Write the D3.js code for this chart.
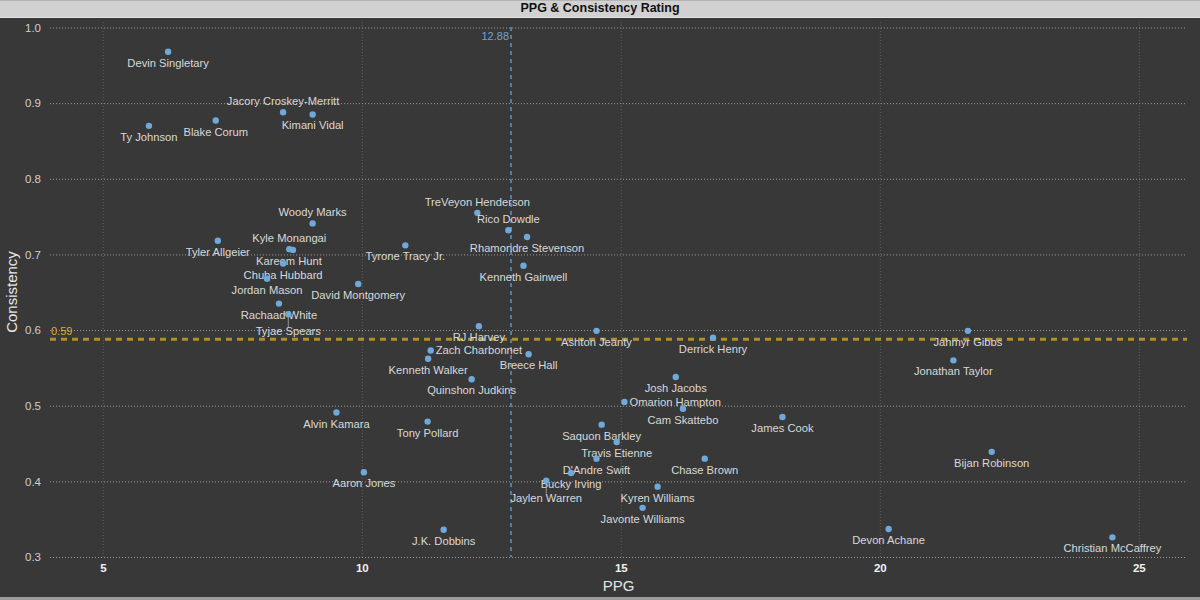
<!DOCTYPE html>
<html>
<head>
<meta charset="utf-8">
<script src="https://cdn.jsdelivr.net/npm/d3@7"></script>
<style>
  html, body { margin: 0; padding: 0; background: #383838; }
  svg { display: block; font-family: "Liberation Sans", Arial, sans-serif; }
</style>
</head>
<body>
<div id="chart"></div>
<script>
// PPG vs consistency scatter
const players = [
  "Devin Singletary", "Ty Johnson", "Blake Corum", "Jacory Croskey-Merritt", "Kimani Vidal",
  "Woody Marks", "Tyler Allgeier", "Kyle Monangai", "Kareem Hunt", "Chuba Hubbard",
  "Jordan Mason", "Rachaad White", "Tyjae Spears", "David Montgomery", "Tyrone Tracy Jr.",
  "TreVeyon Henderson", "Rico Dowdle", "Rhamondre Stevenson", "Kenneth Gainwell", "RJ Harvey",
  "Ashton Jeanty", "Zach Charbonnet", "Kenneth Walker", "Breece Hall", "Quinshon Judkins",
  "Alvin Kamara", "Tony Pollard", "Aaron Jones", "J.K. Dobbins", "Josh Jacobs",
  "Omarion Hampton", "Cam Skattebo", "Saquon Barkley", "Travis Etienne", "D'Andre Swift",
  "Chase Brown", "Bucky Irving", "Jaylen Warren", "Kyren Williams", "Javonte Williams",
  "Derrick Henry", "Jahmyr Gibbs", "Jonathan Taylor", "James Cook", "Bijan Robinson",
  "Devon Achane", "Christian McCaffrey"
];
const ppg = [
  6.26, 5.89, 7.18, 8.48, 9.05,
  9.05, 7.22, 8.60, 8.67, 8.48,
  8.17, 8.40, 8.58, 9.93, 10.84,
  12.23, 12.83, 13.19, 13.12, 12.26,
  14.53, 11.33, 11.28, 13.22, 12.12,
  9.51, 11.27, 10.04, 11.58, 16.06,
  15.07, 16.20, 14.63, 14.92, 14.53,
  16.62, 14.04, 13.56, 15.71, 15.42,
  16.78, 21.70, 21.42, 18.12, 22.16,
  20.17, 24.49
];
const consistency = [
  0.968, 0.870, 0.877, 0.888, 0.885,
  0.741, 0.718, 0.707, 0.706, 0.688,
  0.668, 0.635, 0.621, 0.661, 0.712,
  0.755, 0.732, 0.723, 0.685, 0.605,
  0.599, 0.573, 0.562, 0.568, 0.535,
  0.491, 0.479, 0.412, 0.336, 0.538,
  0.505, 0.496, 0.475, 0.452, 0.430,
  0.430, 0.411, 0.401, 0.393, 0.365,
  0.590, 0.599, 0.560, 0.485, 0.439,
  0.337, 0.326
];
const xTicks = [5, 10, 15, 20, 25];
const yTicks = [0.3, 0.4, 0.5, 0.6, 0.7, 0.8, 0.9, 1.0];
const meanPPG = 12.88;
const meanConsistency = 0.588;

// label placement (default: centred under the point)
const labelSide = {
  "Jacory Croskey-Merritt": "above",
  "Woody Marks": "above",
  "Kyle Monangai": "above",
  "TreVeyon Henderson": "above",
  "Rico Dowdle": "above",
  "Zach Charbonnet": "right",
  "Omarion Hampton": "right"
};
const labelNudge = {
  "Kareem Hunt": [-4, 0],
  "Tyjae Spears": [0, 6],
  "Jaylen Warren": [0, 6]
};

const W = 1200, H = 600;
const svg = d3.select('#chart').append('svg')
  .attr('width', W).attr('height', H);

svg.append('rect').attr('width', W).attr('height', H).attr('fill', '#383838');

// title bar
svg.append('rect').attr('x', 0).attr('y', 0).attr('width', W).attr('height', 17).attr('fill', '#d1d1d1');
svg.append('rect').attr('x', 0).attr('y', 0).attr('width', W).attr('height', 1).attr('fill', '#b5b5b5');
svg.append('rect').attr('x', 0).attr('y', 17).attr('width', W).attr('height', 1).attr('fill', '#e4e4e4');
svg.append('text')
  .attr('x', 600).attr('y', 12)
  .attr('text-anchor', 'middle')
  .attr('font-size', '12.5px')
  .attr('font-weight', 'bold')
  .attr('fill', '#111')
  .text('PPG & Consistency Rating');

// bottom strip
svg.append('rect').attr('x', 0).attr('y', 597).attr('width', W).attr('height', 3).attr('fill', '#9c9c9c');

const x = d3.scaleLinear().domain([3.98, 25.93]).range([50, 1187]);
const y = d3.scaleLinear().domain([0.3, 1.0]).range([557, 27.5]);

// vertical grid
svg.append('g')
  .attr('transform', 'translate(0,557)')
  .call(d3.axisBottom(x).tickValues(xTicks).tickSize(-537).tickFormat(''))
  .call(g => g.select('.domain').remove())
  .call(g => g.selectAll('line')
    .attr('stroke', '#5e5e5e').attr('stroke-dasharray', '1,2'));

// horizontal grid
svg.append('g')
  .attr('transform', 'translate(50,0)')
  .call(d3.axisLeft(y).tickValues(yTicks).tickSize(-1137).tickFormat(''))
  .call(g => g.select('.domain').remove())
  .call(g => g.selectAll('line')
    .attr('stroke', '#9a9a9a').attr('stroke-dasharray', '1,2'));

// axes labels
svg.append('g')
  .attr('transform', 'translate(0,557)')
  .call(d3.axisBottom(x).tickValues(xTicks).tickSize(0).tickPadding(7).tickFormat(d3.format('d')))
  .call(g => g.select('.domain').remove())
  .call(g => g.selectAll('text')
    .attr('fill', '#f2f2f2')
    .attr('font-size', '11.5px')
    .attr('font-weight', 'bold')
    .attr('font-family', '"Liberation Sans", Arial, sans-serif'));

svg.append('g')
  .attr('transform', 'translate(50,0)')
  .call(d3.axisLeft(y).tickValues(yTicks).tickSize(0).tickPadding(9).tickFormat(d3.format('.1f')))
  .call(g => g.select('.domain').remove())
  .call(g => g.selectAll('text')
    .attr('fill', '#cfcfcf')
    .attr('font-size', '11.5px')
    .attr('font-family', '"Liberation Sans", Arial, sans-serif'));

svg.append('text')
  .attr('x', 618.5).attr('y', 591)
  .attr('text-anchor', 'middle')
  .attr('font-size', '15px')
  .attr('fill', '#e6e6e6')
  .text('PPG');

svg.append('text')
  .attr('transform', 'translate(17,292) rotate(-90)')
  .attr('text-anchor', 'middle')
  .attr('font-size', '15px')
  .attr('fill', '#e6e6e6')
  .text('Consistency');

// mean lines
svg.append('line')
  .attr('x1', x(meanPPG)).attr('x2', x(meanPPG))
  .attr('y1', 27).attr('y2', 557)
  .attr('stroke', '#4f7ea8')
  .attr('stroke-width', 2)
  .attr('stroke-dasharray', '4,4');

svg.append('text')
  .attr('x', x(meanPPG) - 2).attr('y', 39.5)
  .attr('text-anchor', 'end')
  .attr('font-size', '11px')
  .attr('fill', '#72a2d0')
  .text(d3.format('.2f')(meanPPG));

svg.append('line')
  .attr('x1', 50).attr('x2', 1187)
  .attr('y1', y(meanConsistency)).attr('y2', y(meanConsistency))
  .attr('stroke', '#b08f2a')
  .attr('stroke-width', 3)
  .attr('stroke-dasharray', '6,5');

svg.append('text')
  .attr('x', 51).attr('y', 334.5)
  .attr('font-size', '11px')
  .attr('fill', '#dcae2c')
  .text(d3.format('.2f')(meanConsistency));

// points + labels
const pts = players.map((name, i) => ({ name, ppg: ppg[i], cons: consistency[i] }));

function labelPos(d) {
  const px = x(d.ppg), py = y(d.cons);
  const side = labelSide[d.name] || 'below';
  const nudge = labelNudge[d.name] || [0, 0];
  let lx = px, ly = py + 15, anchor = 'middle';
  if (side === 'above') ly = py - 7;
  if (side === 'right') { lx = px + 5; ly = py + 4; anchor = 'start'; }
  return { px, py, lx: lx + nudge[0], ly: ly + nudge[1], anchor, lead: nudge[1] > 3 };
}

const marks = svg.append('g').selectAll('g')
  .data(pts)
  .join('g');

marks.filter(d => labelPos(d).lead)
  .append('line')
  .attr('x1', d => x(d.ppg)).attr('y1', d => y(d.cons))
  .attr('x2', d => labelPos(d).lx).attr('y2', d => labelPos(d).ly - 8)
  .attr('stroke', '#bdbdbd')
  .attr('stroke-width', 0.7);

marks.append('circle')
  .attr('cx', d => x(d.ppg))
  .attr('cy', d => y(d.cons))
  .attr('r', 3.2)
  .attr('fill', '#6fa8da');

marks.append('text')
  .attr('x', d => labelPos(d).lx)
  .attr('y', d => labelPos(d).ly)
  .attr('text-anchor', d => labelPos(d).anchor)
  .attr('font-size', '11.2px')
  .attr('fill', '#d9d9d9')
  .text(d => d.name);
</script>
</body>
</html>
